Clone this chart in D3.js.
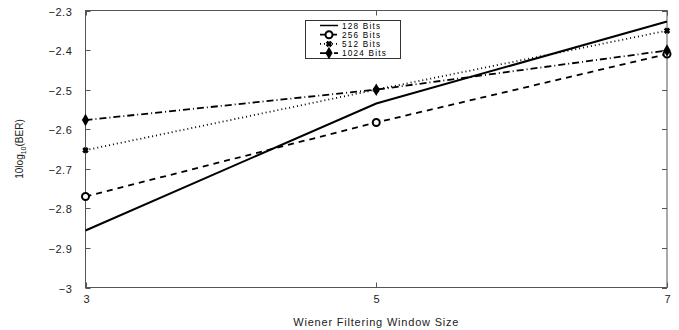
<!DOCTYPE html>
<html>
<head>
<meta charset="utf-8">
<script src="https://cdn.jsdelivr.net/npm/d3@7"></script>
<style>
body { margin: 0; background: #fff; }
text { font-family: "Liberation Sans", Arial, sans-serif; }
</style>
</head>
<body>
<script>
(function(){

//data
var windowSizes = [3, 5, 7];
var bits128 = [-2.856, -2.535, -2.328];
var bits256 = [-2.77, -2.583, -2.41];
var bits512 = [-2.653, -2.5, -2.351];
var bits1024 = [-2.577, -2.5, -2.401];
var seriesNames = ["128 Bits", "256 Bits", "512 Bits", "1024 Bits"];
var yTicks = [-2.3, -2.4, -2.5, -2.6, -2.7, -2.8, -2.9, -3];

var width = 679, height = 330;
var left = 85.5, right = 667, top = 10.5, bottom = 287.5;

var svg = d3.select("body").append("svg")
    .attr("width", width)
    .attr("height", height);

var x = d3.scaleLinear().domain([3, 7]).range([left, right]);
var y = d3.scaleLinear().domain([-3, -2.3]).range([bottom, top]);

//frame
svg.append("rect")
    .attr("x", left).attr("y", top)
    .attr("width", right - left).attr("height", bottom - top)
    .attr("fill", "none").attr("stroke", "#555").attr("stroke-width", 1);

//y ticks, inside both sides
yTicks.forEach(function(t){
    var yy = Math.round(y(t)) + 0.5;
    svg.append("line").attr("x1", left).attr("x2", left + 5)
        .attr("y1", yy).attr("y2", yy).attr("stroke", "#555");
    svg.append("line").attr("x1", right - 5).attr("x2", right)
        .attr("y1", yy).attr("y2", yy).attr("stroke", "#555");
    svg.append("text")
        .attr("x", left - 13).attr("y", yy + 4)
        .attr("text-anchor", "end")
        .attr("font-size", 11)
        .attr("letter-spacing", 0.6)
        .attr("fill", "#222")
        .text(t === -3 ? "\u22123" : "\u2212" + Math.abs(t).toFixed(1));
});

//x ticks
windowSizes.forEach(function(t){
    var xx = Math.round(x(t)) + 0.5;
    svg.append("line").attr("x1", xx).attr("x2", xx)
        .attr("y1", bottom - 5).attr("y2", bottom).attr("stroke", "#555");
    svg.append("line").attr("x1", xx).attr("x2", xx)
        .attr("y1", top).attr("y2", top + 5).attr("stroke", "#555");
    svg.append("text")
        .attr("x", xx).attr("y", 303)
        .attr("text-anchor", "middle")
        .attr("font-size", 11)
        .attr("fill", "#222")
        .text(t);
});

//axis titles
svg.append("text")
    .attr("x", (left + right) / 2).attr("y", 326)
    .attr("text-anchor", "middle")
    .attr("font-size", 11)
    .attr("letter-spacing", 0.8)
    .attr("fill", "#222")
    .text("Wiener Filtering Window Size");

var yl = svg.append("text")
    .attr("transform", "translate(23," + ((top + bottom) / 2) + ") rotate(-90)")
    .attr("text-anchor", "middle")
    .attr("font-size", 10)
    .attr("fill", "#222");
yl.append("tspan").text("10log");
yl.append("tspan").attr("font-size", 7).attr("dy", 3).text("10");
yl.append("tspan").attr("dy", -3).text("(BER)");

var allSeries = [bits128, bits256, bits512, bits1024];
var dashes = [null, "6,5", "1,3", "7,3,1,3"];
var markers = [null, "circle", "star", "diamond"];

var line = d3.line()
    .x(function(d, i){ return x(windowSizes[i]); })
    .y(function(d){ return y(d); });

function drawMarker(g, type, cx, cy){
    if (type === "circle"){
        g.append("circle").attr("cx", cx).attr("cy", cy).attr("r", 3.5)
            .attr("fill", "#fff").attr("stroke", "#000").attr("stroke-width", 2);
    } else if (type === "star"){
        g.append("path")
            .attr("d", d3.symbol().type(d3.symbolCross).size(16)())
            .attr("transform", "translate(" + cx + "," + cy + ") rotate(45)")
            .attr("fill", "#000").attr("stroke", "#000").attr("stroke-width", 1);
    } else if (type === "diamond"){
        g.append("path")
            .attr("d", d3.symbol().type(d3.symbolDiamond).size(45)())
            .attr("transform", "translate(" + cx + "," + cy + ")")
            .attr("fill", "#000");
    }
}

allSeries.forEach(function(vals, s){
    var g = svg.append("g");
    g.append("path")
        .datum(vals)
        .attr("d", line)
        .attr("fill", "none")
        .attr("stroke", "#000")
        .attr("stroke-width", s === 0 ? 2 : 1.8)
        .attr("stroke-dasharray", dashes[s]);
    vals.forEach(function(v, i){
        drawMarker(g, markers[s], x(windowSizes[i]), y(v));
    });
});

//legend
var lg = svg.append("g");
lg.append("rect")
    .attr("x", 305.5).attr("y", 20.5)
    .attr("width", 95).attr("height", 38)
    .attr("fill", "#fff").attr("stroke", "#333");
seriesNames.forEach(function(name, s){
    var ly = 25.5 + s * 9.2;
    lg.append("line")
        .attr("x1", 320).attr("x2", 338)
        .attr("y1", ly).attr("y2", ly)
        .attr("stroke", "#000")
        .attr("stroke-width", s === 0 ? 1.5 : 1.8)
        .attr("stroke-dasharray", dashes[s]);
    drawMarker(lg, markers[s], 329, ly);
    lg.append("text")
        .attr("x", 342).attr("y", ly + 3)
        .attr("font-size", 8.2)
        .attr("letter-spacing", 1.2)
        .attr("fill", "#000")
        .text(name);
});

})();
</script>
</body>
</html>
